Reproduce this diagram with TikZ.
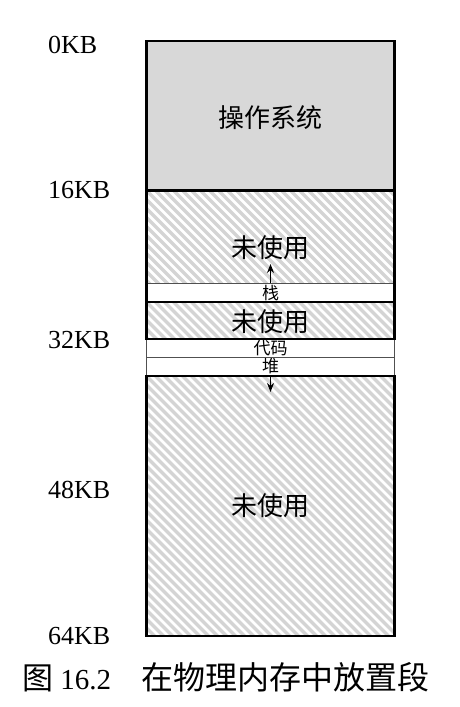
\documentclass[tikz,border=0pt]{standalone}
\usepackage{fontspec}
\setmainfont{Liberation Serif}
\newfontfamily\cjk{Noto Sans CJK SC}
\usetikzlibrary{arrows.meta}
\definecolor{osgray}{HTML}{D8D8D8}
\definecolor{hatchgray}{HTML}{D4D4D4}
\definecolor{thingray}{HTML}{505050}
\begin{document}
\begin{tikzpicture}[x=1pt,y=-1pt,
  region/.style={anchor=north west, inner sep=0pt, outer sep=0pt, minimum width=248pt},
  hatch/.style={fill=white, path picture={
      \foreach \i in {-32,...,30}
        \draw[hatchgray, line width=3.2pt]
          ([xshift=\i*9pt]path picture bounding box.north west) -- ++(300,300);}},
  thinline/.style={draw=thingray, line width=1pt},
  thickline/.style={draw=black, line width=2.2pt},
  bigtext/.style={font=\cjk\fontsize{26}{28}\selectfont, inner sep=0pt},
  smalltext/.style={font=\cjk\fontsize{17}{18}\selectfont, inner sep=0pt},
  kblabel/.style={font=\fontsize{26}{28}\selectfont, anchor=west, inner sep=0pt},
  growarrow/.style={line width=1.3pt, -{Stealth[length=9pt,width=7pt]}}
]
\useasboundingbox (0,0) rectangle (460,707);
% regions
\node[region, fill=osgray, minimum height=149.5pt] (os) at (146.5,41) {};
\node[region, hatch, minimum height=92.5pt] (unusedA) at (146.5,190.5) {};
\node[region, fill=white, thinline, minimum height=19pt] (stack) at (146.5,283) {};
\node[region, hatch, minimum height=37pt] (unusedB) at (146.5,302) {};
\node[region, fill=white, thinline, minimum height=18.5pt] (code) at (146.5,339) {};
\node[region, fill=white, thinline, minimum height=18.5pt] (heap) at (146.5,357.5) {};
\node[region, hatch, minimum height=260pt] (unusedC) at (146.5,376) {};
% borders
\draw[draw=black, line width=1.5pt] (unusedB.north west) -- (unusedB.north east);
\draw[thickline] (os.south west) -- (os.south east);
\draw[thickline] (os.north west) rectangle (unusedB.south east);
\draw[thickline] (unusedC.north west) rectangle (unusedC.south east);
% texts
\node[bigtext] (ostext) at (270.5,118) {操作系统};
\node[bigtext] (unusedAtext) at (270.5,248) {未使用};
\node[smalltext] (stacktext) at (270.5,293.5) {栈};
\node[bigtext] (unusedBtext) at (270.5,322) {未使用};
\node[smalltext] (codetext) at (270.5,348.5) {代码};
\node[smalltext] (heaptext) at (270.5,366.5) {堆};
\node[bigtext] (unusedCtext) at (270.5,506) {未使用};
% growth arrows
\coordinate (stacktip) at (270.5,264);
\coordinate (heaptip) at (270.5,392);
\draw[growarrow] (stack.north) -- (stacktip);
\draw[growarrow] (heap.south) -- (heaptip);
% address labels
\node[kblabel] (kb0) at (48,45) {0KB};
\node[kblabel] (kb16) at (48,190) {16KB};
\node[kblabel] (kb32) at (48,340) {32KB};
\node[kblabel] (kb48) at (48,490) {48KB};
\node[kblabel] (kb64) at (48,636) {64KB};
% caption
\node[anchor=west, inner sep=0pt, font=\fontsize{29}{31}\selectfont] (caption) at (22,677)
  {{\cjk\fontsize{31}{33}\selectfont 图} 16.2\hspace{1.05em}{\cjk\fontsize{32}{34}\selectfont 在物理内存中放置段}};
\end{tikzpicture}
\end{document}
